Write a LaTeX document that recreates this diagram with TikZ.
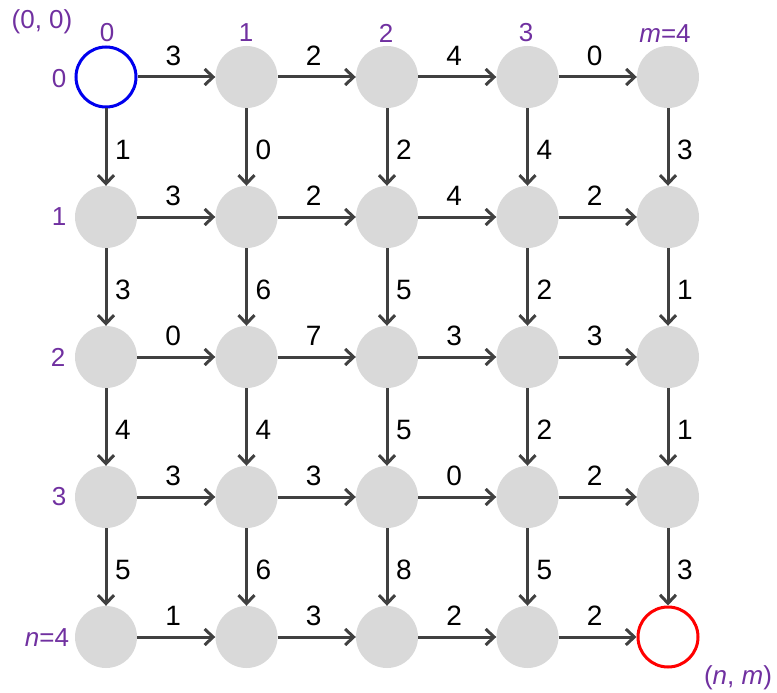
\documentclass[tikz,border=0pt]{standalone}
\usepackage{fontspec}
\setmainfont{Liberation Sans}
\usetikzlibrary{arrows.meta}
\definecolor{vgray}{HTML}{D9D9D9}
\definecolor{egray}{HTML}{404040}
\definecolor{lpurple}{HTML}{7030A0}
\definecolor{sblue}{HTML}{0000EE}
\definecolor{ered}{HTML}{FF0000}
\begin{document}
\begin{tikzpicture}[x=1pt,y=-1pt,
  vtx/.style={circle,fill=vgray,minimum size=62pt,inner sep=0pt},
  startv/.style={circle,fill=white,draw=sblue,line width=3pt,minimum size=60pt,inner sep=0pt},
  endv/.style={circle,fill=white,draw=ered,line width=3pt,minimum size=60pt,inner sep=0pt},
  arr/.style={draw=egray,line width=3pt,-{Straight Barb[length=8.5pt,width=16pt,line width=3pt]}},
  wlab/.style={font=\fontsize{28}{32}\selectfont,text=black,inner sep=0pt},
  plab/.style={font=\fontsize{26}{30}\selectfont,text=lpurple,inner sep=0pt}]
\useasboundingbox (0,0) rectangle (777,693);
% vertices
\foreach \r in {0,...,4}{
  \foreach \c in {0,...,4}{
    \node[vtx] (n\r\c) at ({106+140.5*\c},{77+140*\r}) {};
  }
}
\node[startv] (n00) at (106,77) {};
\node[endv] (n44) at ({106+140.5*4},{77+140*4}) {};
% horizontal edges r/c/w
\foreach \r/\c/\w [evaluate=\c as \d using int(\c+1)] in {
  0/0/3,0/1/2,0/2/4,0/3/0,
  1/0/3,1/1/2,1/2/4,1/3/2,
  2/0/0,2/1/7,2/2/3,2/3/3,
  3/0/3,3/1/3,3/2/0,3/3/2,
  4/0/1,4/1/3,4/2/2,4/3/2}{
  \draw[arr] (n\r\c) -- (n\r\d) node[midway,yshift=21pt,xshift=-3pt,wlab] {\w};
}
% vertical edges r/c/w
\foreach \r/\c/\w [evaluate=\r as \s using int(\r+1)] in {
  0/0/1,1/0/3,2/0/4,3/0/5,
  0/1/0,1/1/6,2/1/4,3/1/6,
  0/2/2,1/2/5,2/2/5,3/2/8,
  0/3/4,1/3/2,2/3/2,3/3/5,
  0/4/3,1/4/1,2/4/1,3/4/3}{
  \draw[arr] (n\r\c) -- (n\s\c) node[midway,xshift=17pt,yshift=-3pt,wlab] {\w};
}
% purple labels
\node[plab] (lorig) at (42,22) {(0, 0)};
\node[plab] (c0) at (107,33) {0};
\node[plab] (c1) at (246,33) {1};
\node[plab] (c2) at (386,33) {2};
\node[plab] (c3) at (526,33) {3};
\node[plab] (c4) at (665,34) {\textit{m}=4};
\node[plab] (r0) at (59,79) {0};
\node[plab] (r1) at (59,217) {1};
\node[plab] (r2) at (58,357) {2};
\node[plab] (r3) at (59,497) {3};
\node[plab] (r4) at (47,638) {\textit{n}=4};
\node[plab] (lend) at (738,678) {(\textit{n}, \textit{m})};
\end{tikzpicture}
\end{document}
